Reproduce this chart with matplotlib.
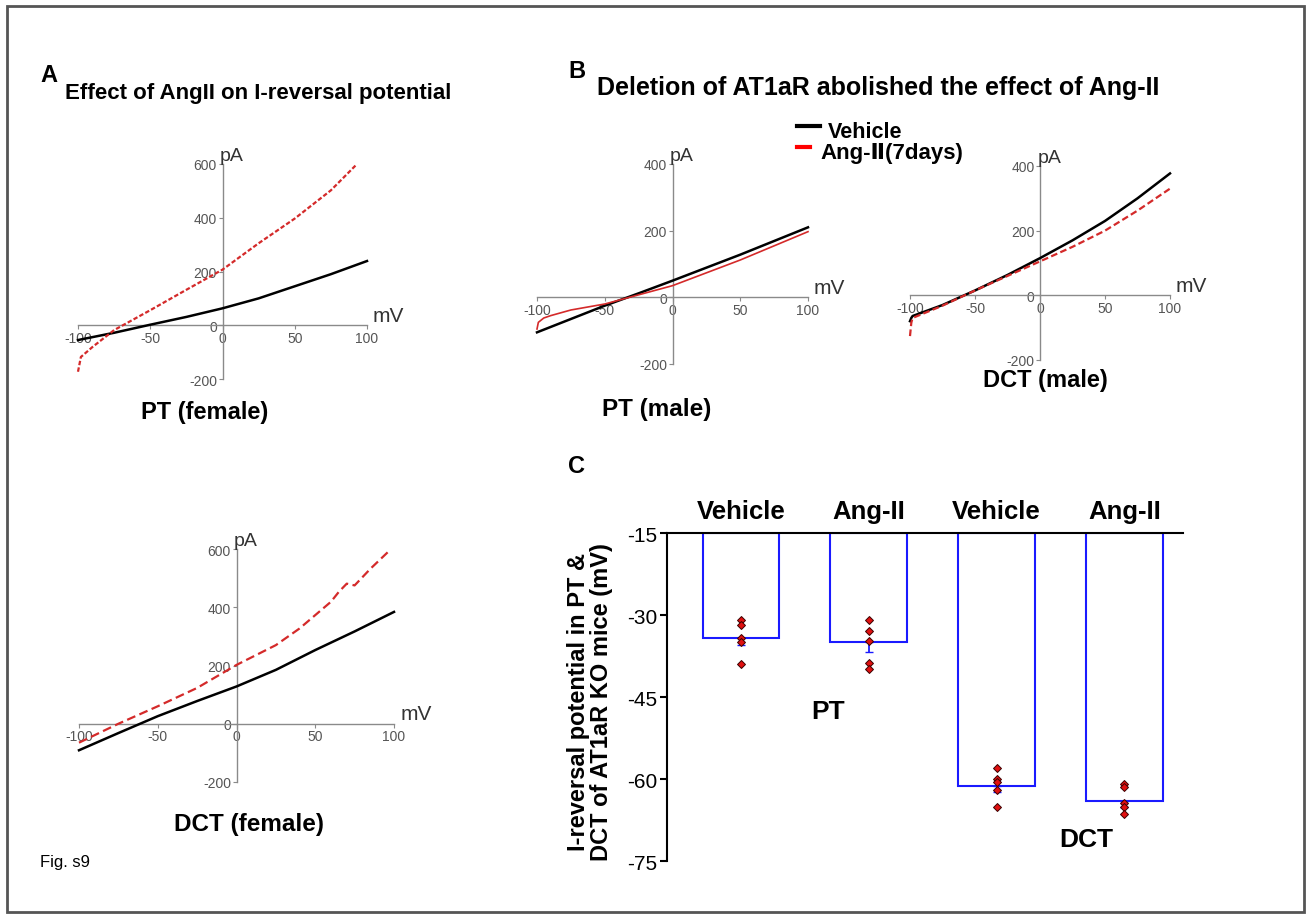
import numpy as np
import matplotlib
matplotlib.use("Agg")
from matplotlib import pyplot as plt
from matplotlib.lines import Line2D
from matplotlib.patches import Rectangle

plt.rcParams['font.family'] = ['Liberation Sans', 'DejaVu Sans']
plt.rcParams['axes.unicode_minus'] = False

W, H = 1311, 920

# --- I-V traces (mV, pA) ---
v_ptf_veh = [-100, -75, -50, -25, 0, 25, 50, 75, 100]
i_ptf_veh = [-55, -28, 2, 31, 63, 100, 145, 190, 239]
v_ptf_ang = [-100, -98, -90, -75, -50, -25, 0, 25, 50, 75, 92]
i_ptf_ang = [-173, -118, -81, -18, 56, 132, 207, 305, 397, 502, 594]

v_dctf_veh = [-100, -75, -50, -25, 0, 25, 50, 75, 100]
i_dctf_veh = [-91, -32, 26, 78, 128, 185, 253, 317, 384]
v_dctf_ang = [-100, -75, -50, -25, 0, 25, 40, 50, 60, 65, 70, 75, 85, 97]
i_dctf_ang = [-65, 0, 60, 123, 202, 270, 327, 373, 419, 453, 481, 475, 532, 594]

v_ptm_veh = [-100, -75, -50, -25, 0, 25, 50, 75, 100]
i_ptm_veh = [-105, -65, -25, 12, 50, 89, 128, 169, 210]
v_ptm_ang = [-100, -99, -95, -90, -75, -50, 0, 50, 100]
i_ptm_ang = [-95, -75, -62, -55, -38, -20, 35, 112, 197]

v_dctm_veh = [-100, -99, -98, -75, -50, -25, 0, 25, 50, 75, 100]
i_dctm_veh = [-80, -70, -64, -30, 15, 63, 115, 170, 230, 300, 377]
v_dctm_ang = [-100, -99, -98, -75, -50, -25, 0, 25, 50, 75, 100]
i_dctm_ang = [-126, -85, -70, -32, 15, 60, 105, 150, 200, 262, 330]

# --- panel C ---
bar_labels = ['Vehicle', 'Ang-II', 'Vehicle', 'Ang-II']
bar_means = [-34.2, -35.0, -61.2, -64.1]
bar_sem = [1.2, 1.7, 1.1, 1.1]
pts = [
    [-31.0, -31.8, -34.2, -35.0, -39.0],
    [-30.9, -32.9, -34.7, -38.7, -39.9],
    [-58.0, -60.0, -60.6, -62.1, -65.2],
    [-60.9, -61.5, -64.3, -65.2, -66.4],
]
c_yticks = [-75, -60, -45, -30, -15]

RED = '#d42a2a'
BLUE = '#1a1aff'

fig = plt.figure(figsize=(W / 100, H / 100), dpi=100)


def px_axes(x0, y0, x1, y1):
    return fig.add_axes([x0 / W, 1 - y1 / H, (x1 - x0) / W, (y1 - y0) / H])


def ftext(x, y, s, **kw):
    fig.text(x / W, 1 - y / H, s, **kw)


def iv_panel(box, ymax, yticks, veh, ang, red_ls, red_lw=1.6):
    ax = px_axes(*box)
    ax.patch.set_visible(False)
    ax.set_xlim(-100, 100)
    ax.set_ylim(-200, ymax)
    for s in ['top', 'right']:
        ax.spines[s].set_visible(False)
    ax.spines['left'].set_position(('data', 0))
    ax.spines['bottom'].set_position(('data', 0))
    for s in ['left', 'bottom']:
        ax.spines[s].set_color('#8a8a8a')
        ax.spines[s].set_linewidth(1)
    ax.set_xticks([-100, -50, 0, 50, 100])
    ax.set_yticks(yticks)
    ax.tick_params(length=3, width=0.8, color='#8a8a8a', labelcolor='#555555',
                   labelsize=10, pad=1)
    ax.plot(*veh, color='black', lw=1.8, clip_on=False, zorder=3)
    ax.plot(*ang, color=RED, lw=red_lw, ls=red_ls, clip_on=False, zorder=4)
    ax.text(-2, ymax, 'pA', fontsize=14, color='#333333', ha='left', va='bottom')
    ax.text(104, 2, 'mV', fontsize=15, color='#333333', ha='left', va='bottom')
    return ax


iv_panel((78, 165, 367, 380), 600, [-200, 0, 200, 400, 600],
         (v_ptf_veh, i_ptf_veh), (v_ptf_ang, i_ptf_ang), (0, (2, 1)))
iv_panel((79, 550, 394, 783), 600, [-200, 0, 200, 400, 600],
         (v_dctf_veh, i_dctf_veh), (v_dctf_ang, i_dctf_ang), (0, (4, 2)))
iv_panel((537, 165, 808, 365), 400, [-200, 0, 200, 400],
         (v_ptm_veh, i_ptm_veh), (v_ptm_ang, i_ptm_ang), '-', red_lw=1.2)
iv_panel((910, 167, 1170, 361), 400, [-200, 0, 200, 400],
         (v_dctm_veh, i_dctm_veh), (v_dctm_ang, i_dctm_ang), (0, (3, 1.5)))

# --- panel C bars ---
axc = px_axes(667, 534, 1183, 862)
axc.patch.set_visible(False)
xs = np.arange(len(bar_means))
heights = [m - (-15) for m in bar_means]
axc.bar(xs, heights, bottom=-15, width=0.6, facecolor='white',
        edgecolor=BLUE, linewidth=1.5, zorder=2)
axc.errorbar(xs, bar_means, yerr=[bar_sem, [0] * len(bar_sem)], fmt='none',
             ecolor=BLUE, elinewidth=1.3, capsize=3, zorder=3)
for i, vals in enumerate(pts):
    axc.plot(np.full(len(vals), xs[i]), vals, 'D', ms=4.5, mfc='#e01010',
             mec='#3a0000', mew=0.7, zorder=4, clip_on=False)
axc.set_xlim(-0.58, 3.46)
axc.set_ylim(-75, -15)
axc.set_yticks(c_yticks)
axc.set_xticks([])
axc.spines['right'].set_visible(False)
axc.spines['bottom'].set_visible(False)
axc.spines['top'].set_linewidth(1.5)
axc.spines['left'].set_linewidth(1.5)
axc.tick_params(axis='y', length=5, width=1.5, labelsize=15, pad=2)
for i, lab in enumerate(bar_labels):
    axc.text(xs[i], -10.9, lab, ha='center', va='center', fontsize=18.5,
             fontweight='bold', clip_on=False)
axc.text(0.68, -47.5, 'PT', ha='center', va='center', fontsize=19, fontweight='bold')
axc.text(2.7, -71, 'DCT', ha='center', va='center', fontsize=19, fontweight='bold')
ftext(590, 702, 'I-reversal potential in PT &\nDCT of AT1aR KO mice (mV)',
      rotation=90, ha='center', va='center', fontsize=17, fontweight='bold',
      linespacing=1.0, multialignment='center')

# --- titles and labels ---
ftext(40, 75, 'A', fontsize=17, fontweight='bold', va='center')
ftext(65, 93, 'Effect of AngII on I-reversal potential', fontsize=16,
      fontweight='bold', va='center')
ftext(568, 72, 'B', fontsize=17, fontweight='bold', va='center')
ftext(597, 88, 'Deletion of AT1aR abolished the effect of Ang-II', fontsize=18,
      fontweight='bold', va='center')
ftext(568, 467, 'C', fontsize=17, fontweight='bold', va='center')

ftext(205, 412, 'PT (female)', fontsize=17, fontweight='bold', ha='center', va='center')
ftext(249, 824, 'DCT (female)', fontsize=17.5, fontweight='bold', ha='center', va='center')
ftext(657, 410, 'PT (male)', fontsize=17.5, fontweight='bold', ha='center', va='center')
ftext(1045, 381, 'DCT (male)', fontsize=17, fontweight='bold', ha='center', va='center')
ftext(40, 863, 'Fig. s9', fontsize=12, va='center')

# legend
fig.add_artist(Line2D([797 / W, 820 / W], [1 - 127 / H, 1 - 127 / H], color='black', lw=3))
fig.add_artist(Line2D([797 / W, 810 / W], [1 - 148 / H, 1 - 148 / H], color='red', lw=3))
ftext(828, 133, 'Vehicle', fontsize=15.5, fontweight='bold', va='center')
ftext(820, 153, 'Ang-\u2161(7days)', fontsize=16, fontweight='bold', va='center')

# frame around the figure
fig.add_artist(Rectangle((7 / W, 7 / H), 1297 / W, 906 / H, fill=False,
                         edgecolor='#555555', lw=2, transform=fig.transFigure))

fig.savefig('out.png', dpi=100)
